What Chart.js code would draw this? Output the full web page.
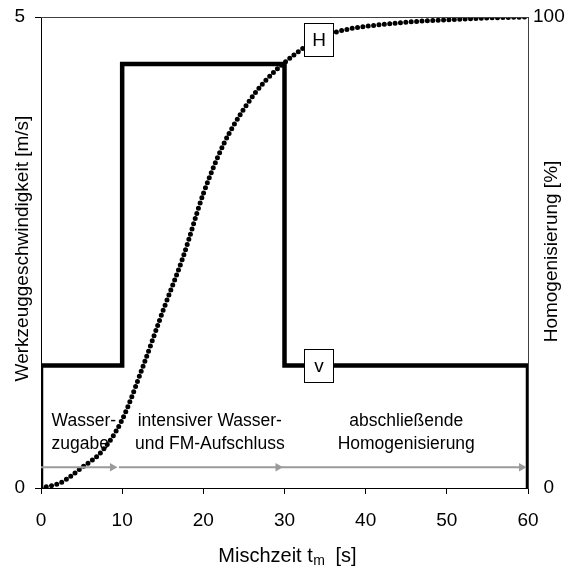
<!DOCTYPE html>
<html>
<head>
<meta charset="utf-8">
<title>Mischzeit</title>
<script src="https://cdn.jsdelivr.net/npm/chart.js"></script>
<style>
    * {
        margin: 0;
        padding: 0;
        box-sizing: border-box;
    }

    body {
        background-color: white;
    }

    .chart-container {
        position: relative;
        width: 566px;
        height: 566px;
    }
</style>
</head>
<body>
<div class="chart-container">
    <canvas id="mixChart"></canvas>
</div>

<script>
    // x axis (Mischzeit in s)
    const timeTicks = [0, 10, 20, 30, 40, 50, 60];

    // v: tool speed, corners of the step line
    const vTime = [0, 0, 10, 10, 30, 30, 60, 60];
    const vSpeed = [0, 1.3, 1.3, 4.5, 4.5, 1.3, 1.3, 0];

    // H: homogenisation in %
    const hTime = [0, 2.5, 5, 7.5, 10, 12.5, 15, 17.5, 20, 22.5, 25, 27.5, 30, 32.5, 35, 37.5, 40, 45, 50, 55, 60];
    const hValue = [0, 1.2, 4.3, 7.8, 14.5, 25.5, 37.5, 49, 62.5, 73, 80.5, 86.2, 90.3, 93.6, 96, 97.3, 98, 98.9, 99.4, 99.8, 100];

    // phases (grey arrows + text)
    const phaseStart = [0, 9.6, 29.6];
    const phaseEnd = [8.8, 29.2, 59.2];
    const phaseLevel = 0.22;
    const phaseText = [
        ['Wasser-', 'zugabe'],
        ['intensiver Wasser-', 'und FM-Aufschluss'],
        ['abschließende', 'Homogenisierung']
    ];
    const phaseTextX = [1.3, 20.8, 45];
    const phaseTextY = [0.71, 0.47];

    // series labels in boxes
    const boxText = ['H', 'v'];
    const boxTime = [34.3, 34.3];
    const boxValue = [95.2, 1.3];
    const boxAxis = ['y2', 'y'];

    const FONT = '"Liberation Sans", Arial, sans-serif';
    Chart.defaults.font.family = FONT;
    Chart.defaults.font.size = 19;
    Chart.defaults.color = '#000';

    const vPoints = vTime.map((t, i) => ({ x: t, y: vSpeed[i] }));
    const hPoints = hTime.map((t, i) => ({ x: t, y: hValue[i] }));

    const arrowPoints = [];
    const arrowRadius = [];
    phaseStart.forEach((s, i) => {
        if (i > 0) {
            arrowPoints.push({ x: s, y: null });
            arrowRadius.push(0);
        }
        arrowPoints.push({ x: s, y: phaseLevel });
        arrowPoints.push({ x: phaseEnd[i], y: phaseLevel });
        arrowRadius.push(0, 5);
    });

    const extras = {
        id: 'extras',
        afterDatasetsDraw(chart) {
            const ctx = chart.ctx;
            const x = chart.scales.x;
            const area = chart.chartArea;
            ctx.save();

            // top frame line
            ctx.strokeStyle = '#404040';
            ctx.lineWidth = 1;
            ctx.beginPath();
            ctx.moveTo(area.left, Math.round(area.top) + 0.5);
            ctx.lineTo(area.right, Math.round(area.top) + 0.5);
            ctx.stroke();

            // phase texts
            ctx.fillStyle = '#000';
            ctx.font = '17.5px ' + FONT;
            ctx.textBaseline = 'middle';
            phaseText.forEach((lines, i) => {
                ctx.textAlign = i === 0 ? 'left' : 'center';
                lines.forEach((line, j) => {
                    ctx.fillText(line, x.getPixelForValue(phaseTextX[i]), chart.scales.y.getPixelForValue(phaseTextY[j]));
                });
            });

            // label boxes
            ctx.font = '19px ' + FONT;
            ctx.textAlign = 'center';
            boxText.forEach((txt, i) => {
                const px = Math.round(x.getPixelForValue(boxTime[i]));
                const py = Math.round(chart.scales[boxAxis[i]].getPixelForValue(boxValue[i]));
                ctx.fillStyle = '#fff';
                ctx.fillRect(px - 14.5, py - 16.5, 29, 33);
                ctx.strokeStyle = '#000';
                ctx.strokeRect(px - 14.5, py - 16.5, 29, 33);
                ctx.fillStyle = '#000';
                ctx.fillText(txt, px, py + 1);
            });

            // axis titles
            ctx.font = '19px ' + FONT;
            const midY = (area.top + area.bottom) / 2;
            ctx.save();
            ctx.translate(23, midY - 4);
            ctx.rotate(-Math.PI / 2);
            ctx.fillText('Werkzeuggeschwindigkeit [m/s]', 0, 0);
            ctx.restore();

            ctx.save();
            ctx.translate(552, midY - 1);
            ctx.rotate(-Math.PI / 2);
            ctx.fillText('Homogenisierung [%]', 0, 0);
            ctx.restore();

            // bottom title with subscript
            const a = 'Mischzeit t', sub = 'm', b = '  [s]';
            ctx.font = '20px ' + FONT;
            const wa = ctx.measureText(a).width;
            const wb = ctx.measureText(b).width;
            ctx.font = '14px ' + FONT;
            const ws = ctx.measureText(sub).width;
            let left = (area.left + area.right) / 2 + 3 - (wa + ws + wb) / 2;
            const ty = 562;
            ctx.textAlign = 'left';
            ctx.textBaseline = 'alphabetic';
            ctx.font = '20px ' + FONT;
            ctx.fillText(a, left, ty);
            ctx.font = '14px ' + FONT;
            ctx.fillText(sub, left + wa + 0.5, ty + 3);
            ctx.font = '20px ' + FONT;
            ctx.fillText(b, left + wa + ws, ty);

            ctx.restore();
        }
    };

    function noPad(scale) {
        scale.paddingTop = 0;
        scale.paddingBottom = 0;
    }

    const ctxMix = document.getElementById('mixChart').getContext('2d');
    const mixChart = new Chart(ctxMix, {
        type: 'line',
        data: {
            datasets: [
                {
                    label: 'Phasen',
                    data: arrowPoints,
                    yAxisID: 'y',
                    borderColor: '#9a9a9a',
                    backgroundColor: '#9a9a9a',
                    borderWidth: 2,
                    pointStyle: 'triangle',
                    pointRotation: 90,
                    pointRadius: arrowRadius,
                    pointBorderWidth: 0,
                    spanGaps: false
                },
                {
                    label: 'v',
                    data: vPoints,
                    yAxisID: 'y',
                    borderColor: '#000',
                    borderWidth: 4.5,
                    borderJoinStyle: 'miter',
                    pointRadius: 0,
                    tension: 0
                },
                {
                    label: 'H',
                    data: hPoints,
                    yAxisID: 'y2',
                    borderColor: '#000',
                    borderWidth: 5,
                    borderDash: [0, 5.4],
                    borderCapStyle: 'round',
                    cubicInterpolationMode: 'monotone',
                    pointRadius: 0
                }
            ]
        },
        plugins: [extras],
        options: {
            responsive: true,
            maintainAspectRatio: false,
            animation: false,
            layout: {
                padding: { top: 17, left: 0, right: 0, bottom: 0 }
            },
            plugins: {
                legend: { display: false },
                tooltip: { enabled: false },
                title: { display: false }
            },
            scales: {
                x: {
                    type: 'linear',
                    min: 0,
                    max: 60,
                    afterBuildTicks: scale => {
                        scale.ticks = timeTicks.map(v => ({ value: v }));
                    },
                    afterFit: scale => { scale.height = 78; },
                    ticks: { padding: 15, maxRotation: 0 },
                    grid: { drawOnChartArea: false, drawTicks: true, tickLength: 6, color: '#000' },
                    border: { display: true, color: '#000', width: 1 }
                },
                y: {
                    position: 'left',
                    min: 0,
                    max: 5,
                    afterBuildTicks: scale => {
                        scale.ticks = [{ value: 0 }, { value: 5 }];
                    },
                    afterFit: scale => { scale.width = 41; noPad(scale); },
                    ticks: { padding: 10 },
                    grid: { drawOnChartArea: false, drawTicks: true, tickLength: 6, color: '#000' },
                    border: { display: true, color: '#000', width: 1 }
                },
                y2: {
                    position: 'right',
                    min: 0,
                    max: 100,
                    afterBuildTicks: scale => {
                        scale.ticks = [{ value: 0 }, { value: 100 }];
                    },
                    afterFit: scale => { scale.width = 38; noPad(scale); },
                    ticks: { padding: 5, crossAlign: 'center' },
                    grid: { drawOnChartArea: false, drawTicks: false },
                    border: { display: true, color: '#404040', width: 1 }
                }
            }
        }
    });
</script>
</body>
</html>
